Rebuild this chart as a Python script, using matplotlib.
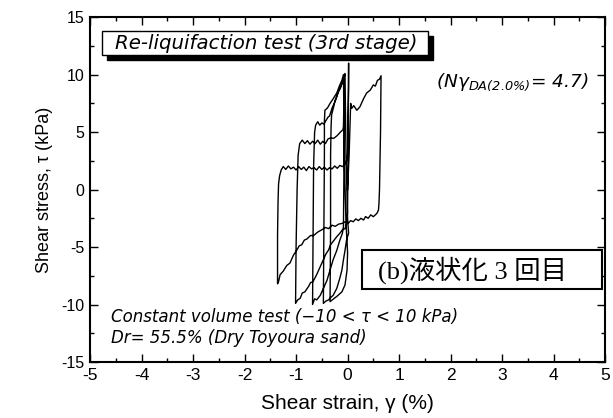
import matplotlib
matplotlib.use("Agg")
import matplotlib.pyplot as plt
from matplotlib.patches import Rectangle
import numpy as np

# values, one list pair per branch, in test order
initial_gamma = [0.0, 0.03, 0.05, 0.06, 0.08, 0.12, 0.18, 0.24, 0.28, 0.31, 0.37, 0.44, 0.50, 0.54, 0.58, 0.62, 0.65]
initial_tau = [0.0, 3.0, 6.0, 7.5, 7.06, 7.3, 6.9, 7.2, 7.6, 7.9, 8.4, 8.65, 9.1, 9.0, 9.5, 9.6, 9.9]

unload1_gamma = [0.65, 0.64, 0.62, 0.61, 0.60, 0.57, 0.50, 0.45, 0.40, 0.35, 0.31, 0.26, 0.21, 0.16, 0.11,
                 0.06, 0.02, -0.04, -0.11, -0.17, -0.24, -0.30, -0.37, -0.43, -0.50, -0.58, -0.66, -0.72,
                 -0.79, -0.84, -0.89, -0.94, -0.99, -1.05, -1.12, -1.18, -1.25, -1.31, -1.34, -1.36]
unload1_tau = [9.9, 5.0, 0.0, -1.2, -1.78, -2.07, -2.36, -2.2, -2.5, -2.35, -2.65, -2.5, -2.7, -2.55, -2.8,
               -2.7, -2.9, -2.8, -2.95, -3.0, -3.2, -3.1, -3.4, -3.3, -3.5, -3.7, -4.0, -4.0,
               -4.3, -4.4, -4.8, -4.9, -5.3, -5.7, -6.4, -6.6, -7.1, -7.4, -8.0, -8.2]

load1_gamma = [-1.36, -1.36, -1.35, -1.34, -1.32, -1.29, -1.25, -1.2, -1.15, -1.1, -1.05, -1.0, -0.95, -0.9,
               -0.85, -0.8, -0.75, -0.7, -0.65, -0.6, -0.55, -0.5, -0.45, -0.4, -0.35, -0.3, -0.25, -0.2,
               -0.15, -0.1, -0.05, -0.02, 0.0, 0.01, 0.02, 0.02]
load1_tau = [-8.2, -4.0, -1.0, 0.5, 1.2, 1.7, 2.0, 1.75, 2.05, 1.8, 1.95, 1.7, 2.0, 1.75,
             1.95, 1.65, 2.0, 1.8, 1.9, 1.7, 2.0, 1.75, 1.95, 1.7, 1.9, 1.8, 2.05, 1.85,
             2.1, 2.0, 2.2, 2.5, 3.0, 6.0, 9.0, 11.0]

unload2_gamma = [0.02, 0.01, 0.0, -0.02, -0.05, -0.1, -0.15, -0.21, -0.28, -0.33, -0.37, -0.42, -0.47,
                 -0.53, -0.6, -0.67, -0.72, -0.76, -0.83, -0.88, -0.92, -0.97, -1.01]
unload2_tau = [11.0, 4.0, -2.0, -3.0, -3.4, -3.5, -3.8, -4.1, -4.5, -4.8, -5.26, -5.6, -6.1,
               -6.7, -7.4, -8.0, -8.1, -8.45, -8.9, -9.0, -9.46, -9.6, -9.9]

load2_gamma = [-1.01, -1.0, -0.98, -0.96, -0.93, -0.88, -0.83, -0.78, -0.73, -0.68, -0.63, -0.58, -0.53,
               -0.48, -0.43, -0.38, -0.33, -0.27, -0.2, -0.14, -0.09, -0.08, -0.07, -0.07]
load2_tau = [-9.9, -5.0, 0.0, 3.0, 4.0, 4.3, 4.0, 4.25, 3.95, 4.2, 4.0, 4.3, 3.95,
             4.2, 4.0, 4.4, 4.5, 4.45, 4.7, 5.0, 5.2, 5.5, 8.0, 10.0]

unload3_gamma = [-0.07, -0.07, -0.08, -0.1, -0.15, -0.21, -0.28, -0.34, -0.4, -0.47, -0.53, -0.6, -0.64, -0.68]
unload3_tau = [10.0, 2.0, -3.2, -3.8, -4.4, -5.3, -6.1, -7.0, -7.9, -8.6, -9.2, -9.6, -9.5, -10.0]

load3_gamma = [-0.68, -0.67, -0.66, -0.64, -0.62, -0.58, -0.54, -0.5, -0.46, -0.42, -0.38, -0.35, -0.3,
               -0.26, -0.22, -0.18, -0.14, -0.1, -0.08, -0.05]
load3_tau = [-10.0, -4.0, 2.0, 5.0, 5.6, 5.9, 5.6, 5.8, 5.7, 6.0, 6.3, 6.4, 7.1,
             7.5, 7.9, 8.5, 8.8, 9.4, 9.7, 10.1]

unload4_gamma = [-0.05, -0.03, 0.0, 0.02, -0.02, -0.05, -0.08, -0.11, -0.15, -0.21, -0.28, -0.33, -0.37, -0.42, -0.47]
unload4_tau = [10.1, 3.0, -2.5, -3.8, -4.4, -5.3, -6.1, -7.0, -7.7, -8.6, -9.2, -9.4, -9.6, -9.7, -9.9]

load4_gamma = [-0.47, -0.46, -0.45, -0.45, -0.44, -0.39, -0.34, -0.28, -0.21, -0.16, -0.11, -0.08]
load4_tau = [-9.9, -3.0, 3.0, 6.0, 6.9, 7.1, 7.5, 7.9, 8.4, 9.0, 9.5, 10.0]

unload5_gamma = [-0.08, -0.06, -0.03, -0.01, 0.0, -0.01, -0.05, -0.11, -0.16, -0.21, -0.27, -0.34]
unload5_tau = [10.0, 2.0, -3.0, -4.5, -5.5, -7.0, -8.3, -8.9, -9.1, -9.3, -9.5, -9.75]

load5_gamma = [-0.34, -0.33, -0.33, -0.32, -0.31, -0.27, -0.24, -0.18, -0.11, -0.05]
load5_tau = [-9.75, -3.0, 3.0, 5.5, 6.5, 7.2, 7.8, 8.5, 9.2, 10.0]

x_ticks = [-5, -4, -3, -2, -1, 0, 1, 2, 3, 4, 5]
y_ticks = [-15, -10, -5, 0, 5, 10, 15]

title_text = "Re-liquifaction test (3rd stage)"
ncycle_text = r"$(N\gamma_{DA(2.0\%)}$= 4.7)"
case_text = "(b)液状化 3 回目"
note_text = "Constant volume test (\u221210 < \u03c4 < 10 kPa)\nDr= 55.5% (Dry Toyoura sand)"


def main():
    plt.rcParams['font.family'] = ['Liberation Sans', 'DejaVu Sans']
    plt.rcParams['mathtext.fontset'] = 'custom'
    plt.rcParams['mathtext.rm'] = 'DejaVu Sans:italic'
    plt.rcParams['mathtext.it'] = 'DejaVu Sans:italic'

    fig = plt.figure(figsize=(6.13, 4.18), dpi=100)
    ax = fig.add_axes([0.147, 0.134, 0.84, 0.825])

    branches = [(initial_gamma, initial_tau), (unload1_gamma, unload1_tau), (load1_gamma, load1_tau),
                (unload2_gamma, unload2_tau), (load2_gamma, load2_tau), (unload3_gamma, unload3_tau),
                (load3_gamma, load3_tau), (unload4_gamma, unload4_tau), (load4_gamma, load4_tau),
                (unload5_gamma, unload5_tau), (load5_gamma, load5_tau)]
    gamma = np.concatenate([b[0] for b in branches])
    tau = np.concatenate([b[1] for b in branches])
    ax.plot(gamma, tau, color='black', lw=1.0)

    ax.set_xlim(-5, 5)
    ax.set_ylim(-15, 15)
    ax.set_xticks(x_ticks)
    ax.set_yticks(y_ticks)
    ax.set_xticklabels([str(t) for t in x_ticks], fontsize=12.5)
    ax.set_yticklabels([str(t) for t in y_ticks], fontsize=11.5)
    ax.set_xticks(np.arange(-5, 5.01, 0.5), minor=True)
    ax.set_yticks(np.arange(-15, 15.01, 2.5), minor=True)
    ax.tick_params(which='both', direction='in', top=True, right=True, width=1.0)
    ax.tick_params(which='major', length=6, pad=4)
    ax.tick_params(which='minor', length=3)
    for s in ax.spines.values():
        s.set_linewidth(1.5)

    ax.set_xlabel("Shear strain, \u03b3 (%)", fontsize=15, labelpad=8)
    ax.set_ylabel("Shear stress, \u03c4 (kPa)", fontsize=13, labelpad=6)

    # title box with a drop shadow
    ax.add_patch(Rectangle((-4.67, 11.27), 6.33, 2.11, facecolor='black', edgecolor='black', zorder=4))
    ax.add_patch(Rectangle((-4.77, 11.7), 6.33, 2.11, facecolor='white', edgecolor='black', lw=1.0, zorder=5))
    ax.text(-4.51, 12.75, title_text, fontsize=14.2, style='italic', va='center', ha='left', zorder=6,
            family='DejaVu Sans')

    ax.text(1.72, 9.35, ncycle_text, fontsize=13.3, style='italic', va='center', ha='left',
            family='DejaVu Sans')

    # case label box
    ax.add_patch(Rectangle((0.28, -8.68), 4.66, 3.42, facecolor='white', edgecolor='black', lw=1.5, zorder=5))
    ax.text(0.6, -7.0, case_text, fontsize=19, va='center', ha='left', zorder=6,
            family=['Liberation Serif', 'Noto Sans CJK JP'])

    ax.text(-4.6, -12.0, note_text, fontsize=12, style='italic', va='center', ha='left', linespacing=1.2,
            family='DejaVu Sans')

    fig.savefig("out.png", dpi=100)


if __name__ == "__main__":
    main()
